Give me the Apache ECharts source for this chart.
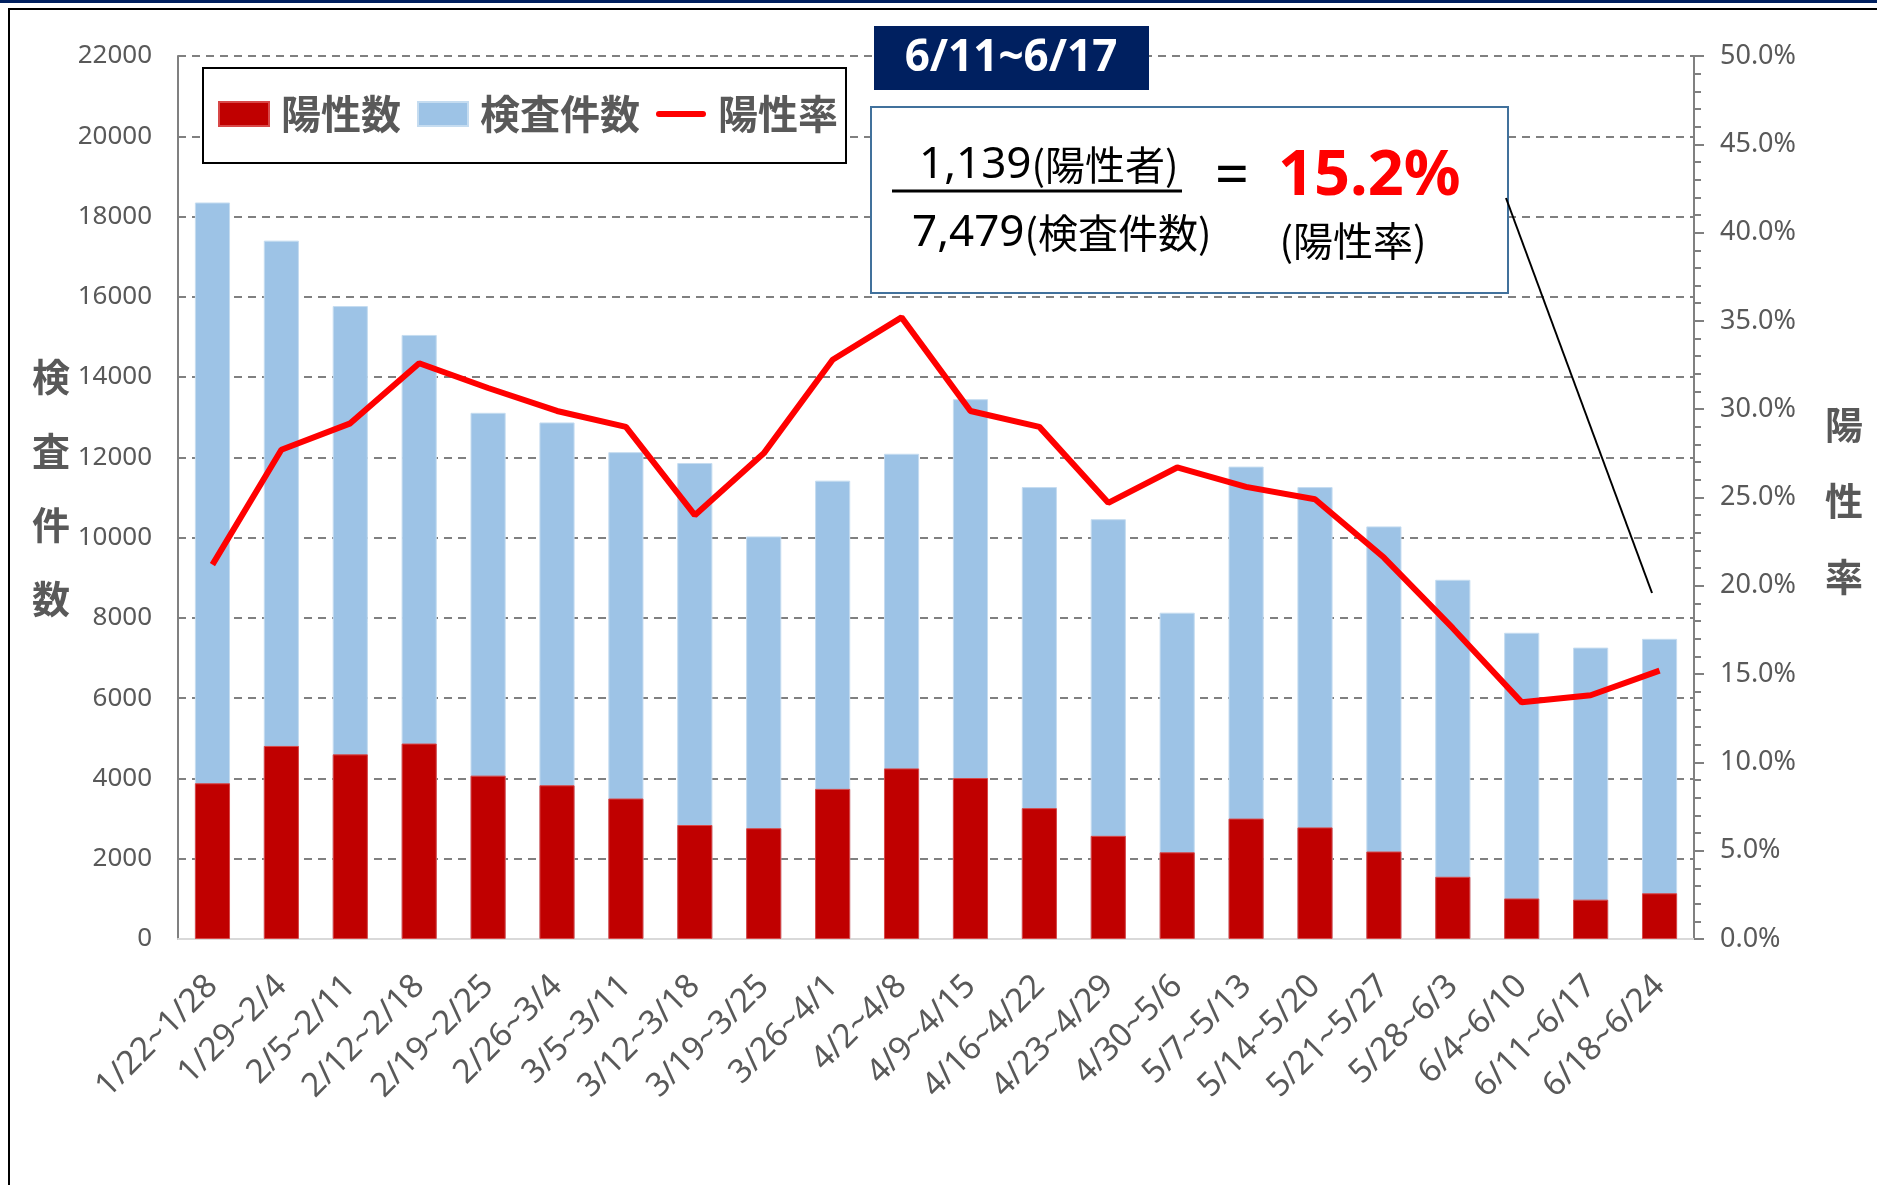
<!DOCTYPE html>
<html>
<head>
<meta charset="utf-8">
<script src="https://cdn.jsdelivr.net/npm/echarts@6/dist/echarts.min.js"></script>
<style>
  html, body { margin: 0; padding: 0; background: #fff; }
  #chart { width: 1877px; height: 1185px; }
</style>
</head>
<body>
<div id="chart"></div>
<script>
// 週ごとの区間
const categories = [
  '1/22~1/28', '1/29~2/4', '2/5~2/11', '2/12~2/18', '2/19~2/25', '2/26~3/4',
  '3/5~3/11', '3/12~3/18', '3/19~3/25', '3/26~4/1', '4/2~4/8', '4/9~4/15',
  '4/16~4/22', '4/23~4/29', '4/30~5/6', '5/7~5/13', '5/14~5/20', '5/21~5/27',
  '5/28~6/3', '6/4~6/10', '6/11~6/17', '6/18~6/24'
];
// 検査件数
const tests = [
  18350, 17400, 15770, 15050, 13110, 12870, 12130, 11860, 10030, 11420, 12090,
  13450, 11260, 10460, 8130, 11770, 11260, 10280, 8950, 7630, 7260, 7479
];
// 陽性数
const positives = [
  3880, 4810, 4600, 4870, 4070, 3830, 3500, 2840, 2760, 3740, 4250,
  4010, 3260, 2570, 2160, 3000, 2780, 2180, 1550, 1010, 980, 1139
];
// 陽性率 (%)
const rates = [
  21.2, 27.7, 29.2, 32.6, 31.2, 29.9, 29.0, 24.0, 27.5, 32.8, 35.2,
  29.9, 29.0, 24.7, 26.7, 25.6, 24.9, 21.6, 17.6, 13.4, 13.8, 15.2
];

const grey = '#595959';
const jp = '"Noto Sans CJK JP", "Noto Sans", sans-serif';
const latin = '"Noto Sans", "DejaVu Sans", sans-serif';

const chart = echarts.init(document.getElementById('chart'));

const option = {
  animation: false,
  backgroundColor: '#fff',
  grid: { left: 178, right: 183, top: 56, bottom: 246, containLabel: false, outerBoundsMode: 'none' },
  legend: {
    left: 203,
    top: 68,
    orient: 'horizontal',
    padding: [26, 8, 29, 15],
    borderColor: '#000',
    borderWidth: 2,
    backgroundColor: '#fff',
    itemWidth: 50,
    itemHeight: 24,
    itemGap: 16,
    symbolKeepAspect: true,
    textStyle: { fontSize: 40, color: grey, fontFamily: jp, fontWeight: 'bold', padding: [0, 0, 0, 7] },
    data: [
      { name: '陽性数', icon: 'rect' },
      { name: '検査件数', icon: 'rect' },
      // 線だけの凡例
      { name: '陽性率', icon: 'path://M3,0 H47 A3,3 0 0 1 47,6 H3 A3,3 0 0 1 3,0 Z', itemStyle: { color: '#FF0000' } }
    ]
  },
  xAxis: {
    type: 'category',
    data: categories,
    axisLine: { lineStyle: { color: '#d9d9d9', width: 2 } },
    axisTick: { show: false },
    axisLabel: { rotate: 45, margin: 42, fontSize: 33, color: grey, fontFamily: latin, interval: 0 },
    splitLine: { show: false }
  },
  yAxis: [
    {
      type: 'value',
      min: 0, max: 22000, interval: 2000,
      axisLine: { show: true, lineStyle: { color: '#808080', width: 2 } },
      axisTick: { show: false },
      axisLabel: { margin: 26, fontSize: 26, color: grey, fontFamily: latin, formatter: v => String(v) },
      splitLine: { show: true, lineStyle: { color: '#808080', width: 2, type: [8, 6] } }
    },
    {
      type: 'value',
      min: 0, max: 50, interval: 5,
      position: 'right',
      axisLine: { show: true, lineStyle: { color: '#808080', width: 2 } },
      axisTick: { show: true, inside: false, length: 10, lineStyle: { color: '#808080', width: 2 } },
      minorTick: { show: true, splitNumber: 5, length: 7, lineStyle: { color: '#808080', width: 2 } },
      axisLabel: { margin: 26, fontSize: 27, color: grey, fontFamily: latin, formatter: v => v.toFixed(1) + '%' },
      splitLine: { show: false }
    }
  ],
  series: [
    {
      name: '検査件数', type: 'bar', data: tests, barWidth: '51%', barGap: '-100%',
      itemStyle: { color: '#9DC3E6', borderColor: '#C5DCF0', borderWidth: 1 }
    },
    {
      name: '陽性数', type: 'bar', data: positives, barWidth: '51%',
      itemStyle: { color: '#C00000', borderColor: '#D84848', borderWidth: 1 }
    },
    {
      name: '陽性率', type: 'line', yAxisIndex: 1, data: rates, symbol: 'none', z: 5,
      lineStyle: { color: '#FF0000', width: 6 }, itemStyle: { color: '#FF0000' }
    }
  ],
  graphic: [
    // 外枠
    { type: 'rect', shape: { x: 0, y: 0, width: 1877, height: 3 }, style: { fill: '#002060' }, silent: true },
    { type: 'rect', shape: { x: 9, y: 9, width: 1920, height: 1220 }, style: { fill: null, stroke: '#000', lineWidth: 2 }, silent: true },
    // 軸タイトル
    {
      type: 'text', x: 51, y: 488, silent: true,
      style: { text: '検\n査\n件\n数', fontSize: 38, fontWeight: 'bold', fontFamily: jp, fill: grey, align: 'center', verticalAlign: 'middle', lineHeight: 74 }
    },
    {
      type: 'text', x: 1844, y: 501, silent: true,
      style: { text: '陽\n性\n率', fontSize: 38, fontWeight: 'bold', fontFamily: jp, fill: grey, align: 'center', verticalAlign: 'middle', lineHeight: 76 }
    },
    // 期間ラベル
    { type: 'rect', z: 100, shape: { x: 874, y: 26, width: 275, height: 64 }, style: { fill: '#002060' } },
    {
      type: 'text', z: 101, x: 1011, y: 58,
      style: { text: '6/11~6/17', fontSize: 44, fontWeight: 'bold', fontFamily: latin, fill: '#fff', align: 'center', verticalAlign: 'middle' }
    },
    // 計算式
    { type: 'rect', z: 100, shape: { x: 871, y: 107, width: 637, height: 186 }, style: { fill: '#fff', stroke: '#41719C', lineWidth: 2 } },
    {
      type: 'text', z: 101, x: 919, y: 165,
      style: {
        text: '{n|1,139}{j|(陽性者)}', align: 'left', verticalAlign: 'middle', fill: '#000',
        rich: { n: { fontSize: 44, fontFamily: latin, fill: '#000' }, j: { fontSize: 40, fontFamily: jp, fill: '#000' } }
      }
    },
    { type: 'line', z: 101, shape: { x1: 892, y1: 191, x2: 1182, y2: 191 }, style: { stroke: '#000', lineWidth: 3 } },
    {
      type: 'text', z: 101, x: 912, y: 233,
      style: {
        text: '{n|7,479}{j|(検査件数)}', align: 'left', verticalAlign: 'middle', fill: '#000',
        rich: { n: { fontSize: 44, fontFamily: latin, fill: '#000' }, j: { fontSize: 40, fontFamily: jp, fill: '#000' } }
      }
    },
    {
      type: 'text', z: 101, x: 1232, y: 178,
      style: { text: '=', fontSize: 60, fontFamily: latin, fill: '#000', align: 'center', verticalAlign: 'middle' }
    },
    {
      type: 'text', z: 101, x: 1278, y: 177,
      style: { text: '15.2%', fontSize: 63, fontWeight: 'bold', fontFamily: latin, fill: '#FF0000', align: 'left', verticalAlign: 'middle' }
    },
    {
      type: 'text', z: 101, x: 1353, y: 241,
      style: { text: '(陽性率)', fontSize: 40, fontFamily: jp, fill: '#000', align: 'center', verticalAlign: 'middle' }
    },
    { type: 'line', z: 101, shape: { x1: 1506, y1: 198, x2: 1652, y2: 593 }, style: { stroke: '#000', lineWidth: 2 } }
  ]
};

chart.setOption(option);
</script>
</body>
</html>
